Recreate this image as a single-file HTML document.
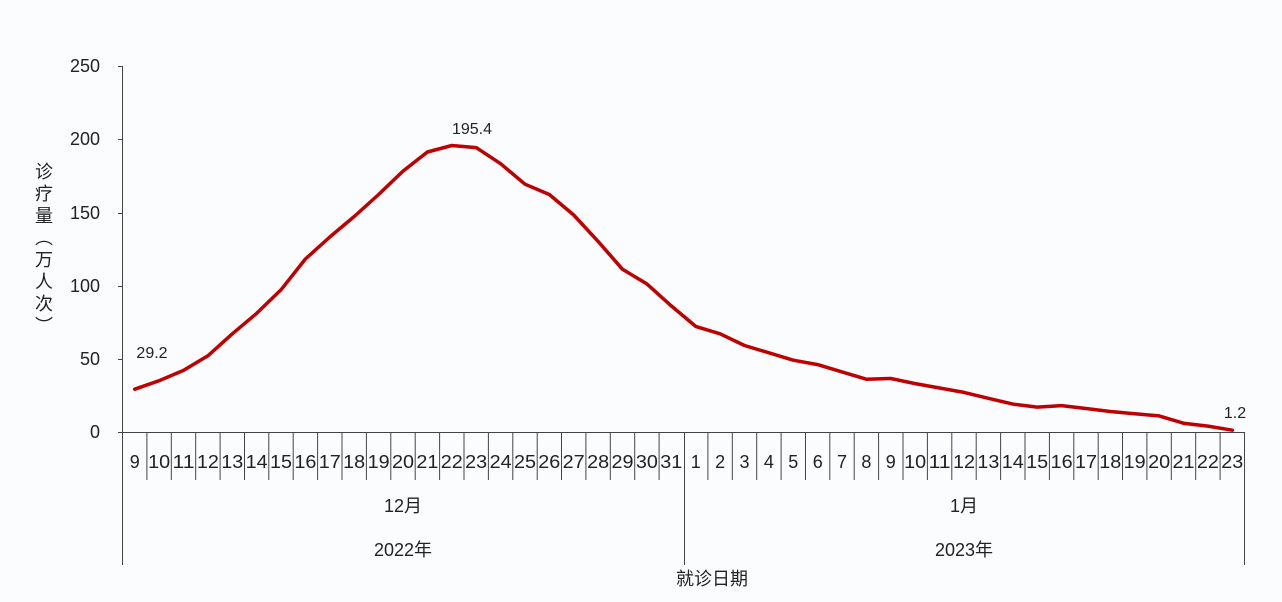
<!DOCTYPE html>
<html><head><meta charset="utf-8"><style>
html,body{margin:0;padding:0;background:#fbfcfe;}
svg{display:block;}
text{font-family:"Liberation Sans","Noto Sans CJK SC",sans-serif;fill:#222;}
</style></head><body>
<svg width="1282" height="602" viewBox="0 0 1282 602" xmlns="http://www.w3.org/2000/svg">
<rect width="1282" height="602" fill="#fbfcfe"/>
<g stroke="#444" stroke-width="1" fill="none">
<line x1="122.5" y1="66" x2="122.5" y2="565"/>
<line x1="118" y1="432.5" x2="1245" y2="432.5"/>
<line x1="118" y1="66.5" x2="122" y2="66.5"/>
<line x1="118" y1="139.5" x2="122" y2="139.5"/>
<line x1="118" y1="213.5" x2="122" y2="213.5"/>
<line x1="118" y1="286.5" x2="122" y2="286.5"/>
<line x1="118" y1="359.5" x2="122" y2="359.5"/>
<line x1="684.5" y1="432" x2="684.5" y2="565"/>
<line x1="1244.5" y1="432" x2="1244.5" y2="565"/>
</g>
<g id="g" stroke="#444" stroke-width="1"></g>
<g font-size="18" text-anchor="end">
<text x="100" y="72">250</text><text x="100" y="145">200</text><text x="100" y="219">150</text><text x="100" y="292">100</text><text x="100" y="365">50</text><text x="100" y="438">0</text>
</g>
<g font-size="18" text-anchor="middle">
<text x="44" y="178">诊</text><text x="44" y="200">疗</text><text x="44" y="222">量</text>
<text x="44" y="244">︵</text><text x="44" y="266">万</text><text x="44" y="288">人</text><text x="44" y="310">次</text><text x="44" y="332">︶</text>
<text x="403" y="512">12月</text><text x="964" y="512">1月</text>
<text x="403" y="556">2022年</text><text x="964" y="556">2023年</text>
<text x="712" y="585">就诊日期</text>
</g>
<g font-size="16" text-anchor="middle">
<text x="152" y="358">29.2</text><text x="472" y="134">195.4</text><text x="1235" y="418">1.2</text>
</g>
<g id="lbl" font-size="18" text-anchor="middle"></g>
<polyline id="line" fill="none" stroke="#c00000" stroke-width="3.5" stroke-linejoin="round" stroke-linecap="round" points=""/>
<script>
var d=[29.2,35,42,52,67,81,97,118,133,147,162,178,191,195.4,194,183,169,162,148,130,111,101,86,72,67,59,54,49,46,41,36,36.5,33,30,27,23,19,17,18,16,14,12.5,11,6,4,1.2];
var labs=[];for(var i=9;i<=31;i++)labs.push(i);for(var i=1;i<=23;i++)labs.push(i);
var w=(1244.5-122.5)/46,pts=[],g=document.getElementById('g'),L=document.getElementById('lbl'),ns='http://www.w3.org/2000/svg';
for(var i=0;i<46;i++){var cx=122.5+w*(i+0.5);pts.push(cx.toFixed(1)+','+(432-d[i]*1.466).toFixed(1));
var t=document.createElementNS(ns,'text');t.setAttribute('x',cx.toFixed(1));t.setAttribute('y','468');t.textContent=labs[i];
if(String(labs[i]).length>1){t.setAttribute('textLength','22');t.setAttribute('lengthAdjust','spacingAndGlyphs');}
L.appendChild(t);
if(i>0&&i!=23){var l=document.createElementNS(ns,'line');var x=(122.5+w*i).toFixed(1);l.setAttribute('x1',x);l.setAttribute('x2',x);l.setAttribute('y1','432');l.setAttribute('y2','480');g.appendChild(l);}}
document.getElementById('line').setAttribute('points',pts.join(' '));
</script>
</svg>
</body></html>
